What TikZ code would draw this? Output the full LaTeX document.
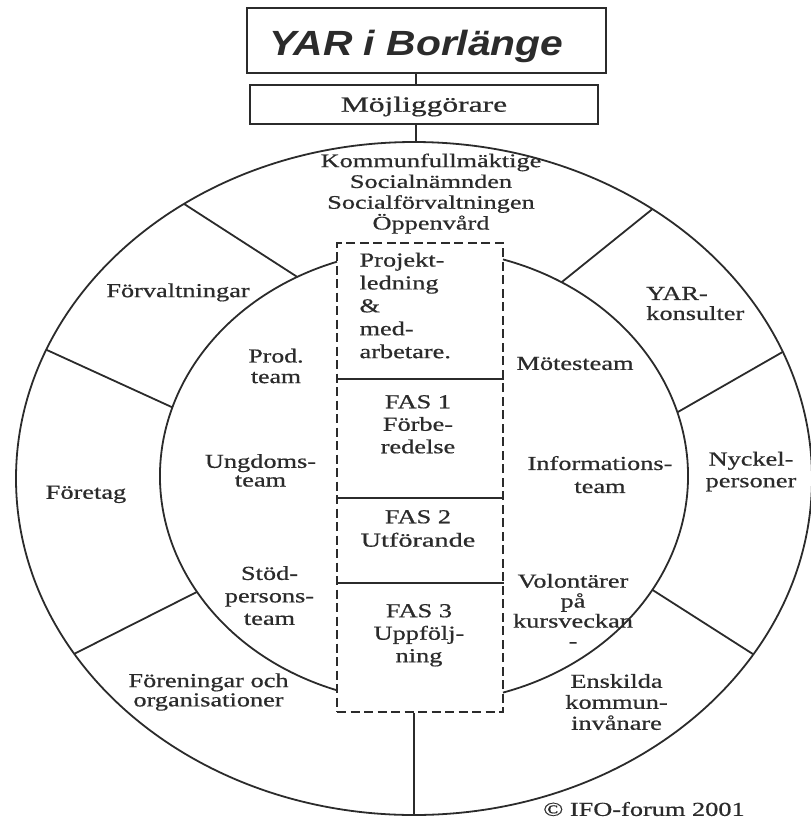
\documentclass[tikz,border=0pt]{standalone}
\usepackage{fontspec}
\setmainfont{Liberation Serif}
\newfontfamily\lblfont{Liberation Serif}[FakeBold=0.6]
\newfontfamily\titlefont{Liberation Sans}
\usetikzlibrary{calc}
\definecolor{ink}{gray}{0.17}
\newcommand\lfnt[2]{\lblfont\fontsize{#1}{#2}\selectfont\lineskiplimit=-100pt\lineskip=0pt}
\tikzset{
  line/.style={draw=ink, line width=1.8pt},
  box/.style={draw=ink, line width=1.8pt, inner sep=0pt, text=ink},
  phasebox/.style={draw=ink, line width=1.6pt, dash pattern=on 9pt off 4.5pt, inner sep=0pt},
  lbl/.style={text=ink, inner sep=0pt, align=center, xscale=#1, font=\lfnt{19.8}{22}},
  lbl/.default=1.33,
}
\begin{document}
\begin{tikzpicture}[x=1pt,y=-1pt]
\useasboundingbox (0,0) rectangle (811,820);
\coordinate (co) at (414,478.5);
\coordinate (ci) at (424,476);
\coordinate (cx) at (416,0);
\coordinate (otop) at ($(co)+(-90:398 and 336.5)$);
\coordinate (obot) at ($(co)+(90:398 and 336.5)$);

% boxes
\node[box, minimum width=359pt, minimum height=65pt, text height=29pt, text depth=0pt,
      font=\fontsize{35}{40}\selectfont\titlefont\bfseries\itshape] (title) at (426.5,40.5)
      {\scalebox{1.166}[1]{YAR i Borlänge}\hspace*{20pt}};
\node[box, minimum width=348pt, minimum height=39pt, text height=14.4pt, text depth=0pt,
      font=\lfnt{21.6}{24}] (moj) at (424,104.5) {\scalebox{1.46}[1]{Möjliggörare}};
\node[phasebox, minimum width=166pt, minimum height=469pt] (phase) at (420,477.5) {};

% connectors
\draw[line] (title.south -| cx) -- (moj.north -| cx);
\draw[line] (moj.south -| cx) -- (cx |- otop);
\draw[line] (phase.south -| obot) -- (obot);

% outer ellipse
\draw[line] (co) ellipse [x radius=398, y radius=336.5];
% inner arcs
\draw[line] ($(ci)+(109.24:264 and 227)$) arc[start angle=109.24, end angle=250.76, x radius=264, y radius=227];
\draw[line] ($(ci)+(-72.59:264 and 227)$) arc[start angle=-72.59, end angle=72.59, x radius=264, y radius=227];

% separators in the ring
\draw[line] ($(ci)+(241.3:264 and 227)$) -- ($(co)+(234.7:398 and 336.5)$);
\draw[line] ($(ci)+(197.6:264 and 227)$) -- ($(co)+(202.5:398 and 336.5)$);
\draw[line] ($(ci)+(149.3:264 and 227)$) -- ($(co)+(148.6:398 and 336.5)$);
\draw[line] ($(ci)+(30.1:264 and 227)$) -- ($(co)+(31.5:398 and 336.5)$);
\draw[line] ($(ci)+(-16.3:264 and 227)$) -- ($(co)+(-22.1:398 and 336.5)$);
\draw[line] ($(ci)+(-58.6:264 and 227)$) -- ($(co)+(-53.2:398 and 336.5)$);

% phase separators
\draw[line, line width=1.6pt] (phase.west |- 0,379) -- (phase.east |- 0,379);
\draw[line, line width=1.6pt] (phase.west |- 0,498) -- (phase.east |- 0,498);
\draw[line, line width=1.6pt] (phase.west |- 0,583) -- (phase.east |- 0,583);

% outer ring labels
\node[lbl=1.37, font=\lfnt{19.2}{20.8}] (kommun) at (431,193.6)
  {Kommunfullmäktige\\Socialnämnden\\Socialförvaltningen\\Öppenvård};
\node[lbl] (forv) at (178,292.4) {Förvaltningar};
\node[lbl] (foretag) at (86,494.4) {Företag};
\node[lbl, font=\lfnt{19.8}{19.3}] (foren) at (208.5,692) {Föreningar och\\organisationer};
\node[lbl, anchor=west, align=left, font=\lfnt{19.8}{20}] (yar) at (646,303.5) {YAR-\\konsulter};
\node[lbl, font=\lfnt{19.8}{21.7}] (nyckel) at (751,471.6) {Nyckel-\\personer};
\node[lbl, font=\lfnt{19.8}{21}] (enskilda) at (616.5,702) {Enskilda\\kommun-\\invånare};

% inner ring labels
\node[lbl=1.3, font=\lfnt{19.8}{20.6}] (prod) at (276,366) {Prod.\\team};
\node[lbl, font=\lfnt{19.8}{18.7}] (ungdom) at (260.5,470.4) {Ungdoms-\\team};
\node[lbl, font=\lfnt{19.8}{22.5}] (stod) at (269.5,595.6) {Stöd-\\persons-\\team};
\node[lbl] (mote) at (575,363.5) {Mötesteam};
\node[lbl, font=\lfnt{19.8}{23}] (info) at (600,474.6) {Informations-\\team};
\node[lbl, font=\lfnt{19.8}{20}] (volont) at (573,610.7) {Volontärer\\på\\kursveckan\\-};

% phase labels
\node[lbl, anchor=west, align=left, font=\lfnt{19.8}{22.9}] (proj) at (359.3,305.6) {Projekt-\\ledning\\\&\\med-\\arbetare.};
\node[lbl, font=\lfnt{19.8}{22.5}] (fas1) at (418,424.3) {FAS 1\\Förbe-\\redelse};
\node[lbl, font=\lfnt{19.8}{23.4}] (fas2) at (418,528.5) {FAS 2\\\scalebox{1.075}[1]{Utförande}};
\node[lbl, font=\lfnt{19.8}{22.5}] (fas3) at (419,635.3) {FAS 3\\Uppfölj-\\ning};

% copyright
\node[lbl] (copy) at (644,809) {© IFO-forum 2001};
\end{tikzpicture}
\end{document}
